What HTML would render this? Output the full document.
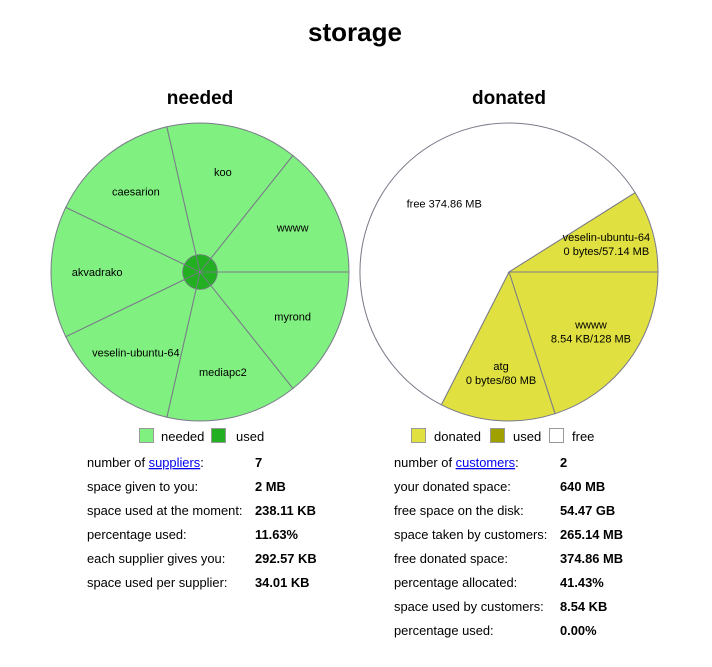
<!DOCTYPE html>
<html><head><meta charset="utf-8">
<style>
html,body{margin:0;padding:0;background:#fff;}
body{width:712px;height:662px;overflow:hidden;font-family:"Liberation Sans",Arial,sans-serif;}
svg text{font-family:"Liberation Sans",Arial,sans-serif;}
</style></head><body>
<svg id="chart" width="712" height="662" xmlns="http://www.w3.org/2000/svg">
<text x="355" y="41" text-anchor="middle" font-size="26" font-weight="bold">storage</text>
<text x="200" y="104" text-anchor="middle" font-size="19" font-weight="bold">needed</text>
<text x="509" y="104" text-anchor="middle" font-size="19" font-weight="bold">donated</text>
<g id="leftPie"></g>
<g id="rightPie"></g>
<g>
<rect x="139.5" y="428.5" width="14" height="14" fill="#80f080" stroke="#999"/>
<text x="161" y="441" font-size="13">needed</text>
<rect x="211.5" y="428.5" width="14" height="14" fill="#22b022" stroke="#999"/>
<text x="236" y="441" font-size="13">used</text>
</g>
<g>
<rect x="411.5" y="428.5" width="14" height="14" fill="#e0e040" stroke="#999"/>
<text x="434" y="441" font-size="13">donated</text>
<rect x="490.5" y="428.5" width="14" height="14" fill="#a0a000" stroke="#999"/>
<text x="513" y="441" font-size="13">used</text>
<rect x="549.5" y="428.5" width="14" height="14" fill="#fff" stroke="#999"/>
<text x="572" y="441" font-size="13">free</text>
</g>
<g font-size="12.9">
<text x="87" y="467">number of <tspan fill="#00e" text-decoration="underline">suppliers</tspan>:</text><text x="255" y="467" font-weight="bold">7</text>
<text x="87" y="491">space given to you:</text><text x="255" y="491" font-weight="bold">2 MB</text>
<text x="87" y="515">space used at the moment:</text><text x="255" y="515" font-weight="bold">238.11 KB</text>
<text x="87" y="539">percentage used:</text><text x="255" y="539" font-weight="bold">11.63%</text>
<text x="87" y="563">each supplier gives you:</text><text x="255" y="563" font-weight="bold">292.57 KB</text>
<text x="87" y="587">space used per supplier:</text><text x="255" y="587" font-weight="bold">34.01 KB</text>
</g>
<g font-size="12.9">
<text x="394" y="467">number of <tspan fill="#00e" text-decoration="underline">customers</tspan>:</text><text x="560" y="467" font-weight="bold">2</text>
<text x="394" y="491">your donated space:</text><text x="560" y="491" font-weight="bold">640 MB</text>
<text x="394" y="515">free space on the disk:</text><text x="560" y="515" font-weight="bold">54.47 GB</text>
<text x="394" y="539">space taken by customers:</text><text x="560" y="539" font-weight="bold">265.14 MB</text>
<text x="394" y="563">free donated space:</text><text x="560" y="563" font-weight="bold">374.86 MB</text>
<text x="394" y="587">percentage allocated:</text><text x="560" y="587" font-weight="bold">41.43%</text>
<text x="394" y="611">space used by customers:</text><text x="560" y="611" font-weight="bold">8.54 KB</text>
<text x="394" y="635">percentage used:</text><text x="560" y="635" font-weight="bold">0.00%</text>
</g>
</svg>
<script>
const supplierNames = ["myrond","mediapc2","veselin-ubuntu-64","akvadrako","caesarion","koo","wwww"];
const supplierShares = [1,1,1,1,1,1,1];
const neededUsedFraction = 0.1163;
const donatedNames = ["wwww","atg","free","veselin-ubuntu-64"];
const donatedSizes = [128,80,374.86,57.14];
const donatedLabels = ["8.54 KB/128 MB","0 bytes/80 MB","374.86 MB","0 bytes/57.14 MB"];
const donatedIsFree = [false,false,true,false];

const NS="http://www.w3.org/2000/svg";
const R=149;
function pt(cx,cy,r,a){return [cx+r*Math.cos(a),cy+r*Math.sin(a)];}
function slicePath(cx,cy,r,a0,a1){
  const p0=pt(cx,cy,r,a0),p1=pt(cx,cy,r,a1);
  const large=(a1-a0)>Math.PI?1:0;
  return `M${cx},${cy}L${p0[0]},${p0[1]}A${r},${r} 0 ${large} 1 ${p1[0]},${p1[1]}Z`;
}
function addText(g,x,y,lines){
  lines.forEach((s,i)=>{
    const t=document.createElementNS(NS,"text");
    t.setAttribute("x",x);t.setAttribute("y",y+(i-(lines.length-1)/2)*14+4);
    t.setAttribute("text-anchor","middle");t.setAttribute("font-size","11");
    t.textContent=s;
    
    
    g.appendChild(t);
  });
}
(function(){
  const g=document.getElementById("leftPie"),cx=200,cy=272;
  const total=supplierShares.reduce((a,b)=>a+b,0);
  let a=0;
  supplierShares.forEach((v,i)=>{
    const a1=a+v/total*2*Math.PI;
    const p=document.createElementNS(NS,"path");
    p.setAttribute("d",slicePath(cx,cy,R,a,a1));
    p.setAttribute("fill","#80f080");p.setAttribute("stroke","#7a7a8a");p.setAttribute("stroke-width","1");
    
    
    g.appendChild(p);
    const m=(a+a1)/2,lp=pt(cx,cy,R*0.69,m);
    addText(g,lp[0],lp[1],[supplierNames[i]]);
    a=a1;
  });
  const r2=R*neededUsedFraction;
  a=0;
  supplierShares.forEach((v)=>{
    const a1=a+v/total*2*Math.PI;
    const p=document.createElementNS(NS,"path");
    p.setAttribute("d",slicePath(cx,cy,r2,a,a1));
    p.setAttribute("fill","#22b022");p.setAttribute("stroke","#7a7a8a");p.setAttribute("stroke-width","0.8");
    
    
    g.appendChild(p);
    a=a1;
  });
})();
(function(){
  const g=document.getElementById("rightPie"),cx=509,cy=272;
  const total=donatedSizes.reduce((a,b)=>a+b,0);
  let a=0;
  donatedSizes.forEach((v,i)=>{
    const a1=a+v/total*2*Math.PI;
    const p=document.createElementNS(NS,"path");
    p.setAttribute("d",slicePath(cx,cy,R,a,a1));
    p.setAttribute("fill",donatedIsFree[i]?"#ffffff":"#e0e040");
    p.setAttribute("stroke","#7a7a8a");p.setAttribute("stroke-width","1");
    
    
    g.appendChild(p);
    const m=(a+a1)/2,lp=pt(cx,cy,R*0.68,m);
    if(donatedIsFree[i]) addText(g,lp[0]+10,lp[1],[donatedNames[i]+" "+donatedLabels[i]]);
    else addText(g,lp[0],lp[1],[donatedNames[i],donatedLabels[i]]);
    a=a1;
  });
})();
</script>
</body></html>
